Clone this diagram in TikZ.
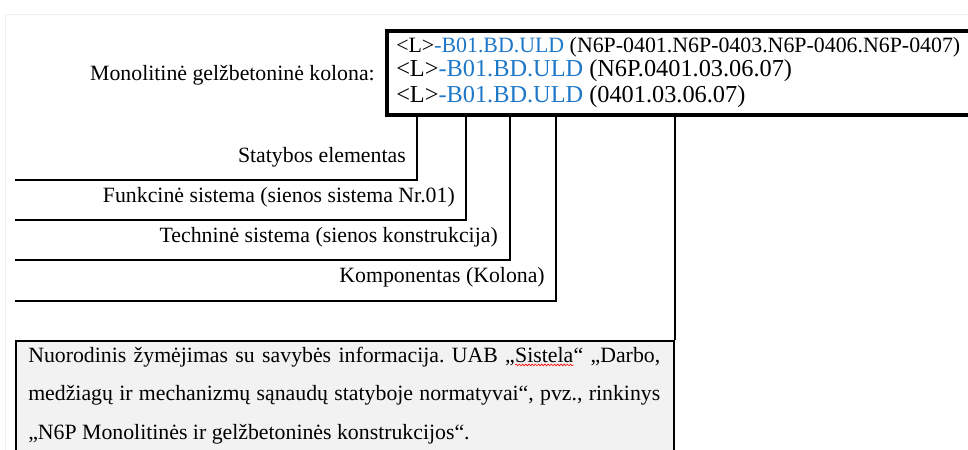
\documentclass[tikz,border=0pt]{standalone}
\usepackage{fontspec}
\setmainfont{Liberation Serif}
\usetikzlibrary{decorations.pathmorphing}
\definecolor{codeblue}{RGB}{30,120,200}
\definecolor{notefill}{RGB}{242,242,242}
\definecolor{framegray}{RGB}{238,238,238}
\frenchspacing
% word with a red wavy spell-check underline
\newcommand\spellwave[1]{\tikz[baseline=(sw.base)]{\node[inner sep=0pt,outer sep=0pt] (sw) {#1};
  \draw[red, line width=0.5pt, decorate, decoration={snake, amplitude=0.6pt, segment length=2.4pt}]
    ([yshift=-2.2pt]sw.base west) -- ([yshift=-2.2pt]sw.base east);}}

\begin{document}
\begin{tikzpicture}[x=0.75pt,y=-0.75pt,
  lbl/.style={font=\fontsize{16.35}{20}\selectfont, inner sep=0pt, anchor=base east},
  codeline/.style={inner sep=0pt, anchor=base west},
  leader/.style={line width=1.5pt},
]
\useasboundingbox (0,0) rectangle (968,450);
\clip (0,0) rectangle (968,450);

% faint page frame
\draw[framegray, line width=0.75pt] (5,460) -- (5,14) -- (975,14);

% heading label
\node[lbl] (title) at (375,80) {Monolitinė gelžbetoninė kolona:};

% code box
\node[draw, line width=3pt, anchor=north west, inner sep=0pt,
      minimum width=460pt, minimum height=63pt] (codes) at (385,28.5) {};
\node[codeline, font=\fontsize{16.4}{20}\selectfont] (c1) at (396,52)
  {<L>\textcolor{codeblue}{-B01.BD.ULD} (N6P-0401.N6P-0403.N6P-0406.N6P-0407)};
\node[codeline, font=\fontsize{18.25}{22}\selectfont] (c2) at (396,76.5)
  {<L>\textcolor{codeblue}{-B01.BD.ULD} (N6P.0401.03.06.07)};
\node[codeline, font=\fontsize{18.25}{22}\selectfont] (c3) at (396,102.5)
  {<L>\textcolor{codeblue}{-B01.BD.ULD} (0401.03.06.07)};

% leader columns and ends
\coordinate (xse) at (416.5,0);
\coordinate (xfs) at (465.5,0);
\coordinate (xts) at (509.5,0);
\coordinate (xko) at (556,0);
\coordinate (ese) at (15,180);
\coordinate (efs) at (15,220);
\coordinate (ets) at (15,260);
\coordinate (eko) at (15,301);

% labels
\node[lbl] (lse) at (406,162) {Statybos elementas};
\node[lbl] (lfs) at (455,202) {Funkcinė sistema (sienos sistema Nr.01)};
\node[lbl] (lts) at (498,242) {Techninė sistema (sienos konstrukcija)};
\node[lbl] (lko) at (545,282) {Komponentas (Kolona)};

% reference note box
\node[draw, line width=1.5pt, fill=notefill, anchor=north west, inner sep=0pt,
      minimum width=493.5pt, minimum height=150pt] (note) at (15,340) {};
\node[anchor=base west, inner sep=0pt, text width=474pt, align=justify,
      font=\fontsize{16.35}{28.9}\selectfont] (notetext) at (28,362)
  {Nuorodinis žymėjimas su savybės informacija. UAB „\spellwave{Sistela}“ „Darbo,\linebreak
   medžiagų ir mechanizmų sąnaudų statyboje normatyvai“, pvz., rinkinys\linebreak
   „N6P Monolitinės ir gelžbetoninės konstrukcijos“.};

% connectors
\draw[leader] (codes.south -| xse) |- (ese);
\draw[leader] (codes.south -| xfs) |- (efs);
\draw[leader] (codes.south -| xts) |- (ets);
\draw[leader] (codes.south -| xko) |- (eko);
\draw[leader] (codes.south -| note.north east) -- (note.north east);
\end{tikzpicture}
\end{document}
